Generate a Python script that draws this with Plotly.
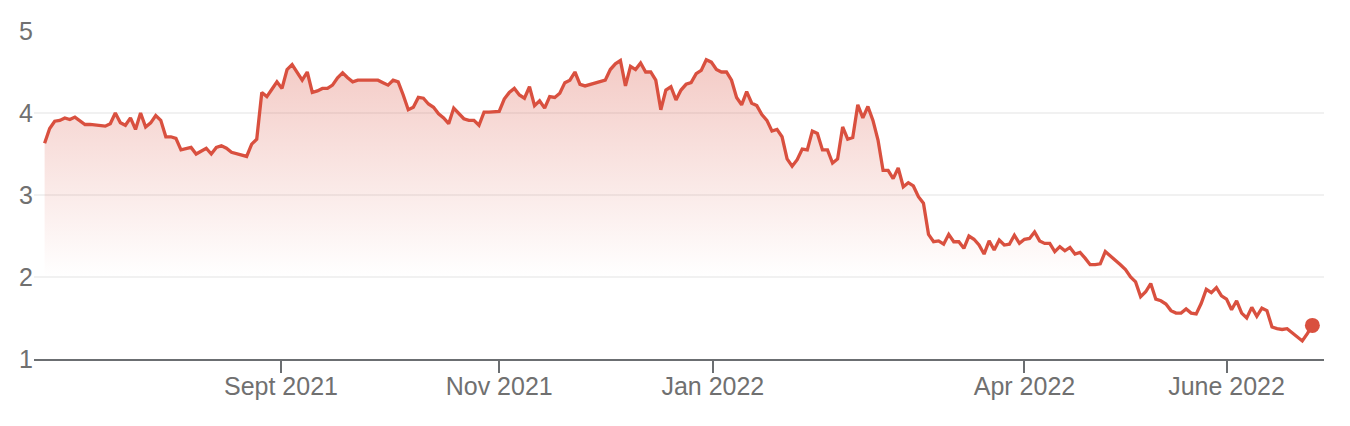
import plotly.graph_objects as go

# Daily closing values (trading days)
values = [
    3.63, 3.81, 3.90, 3.91, 3.94, 3.92, 3.95, 3.91, 3.86, 3.86,
    3.85, 3.84, 3.84, 3.87, 4.00, 3.88, 3.85, 3.94, 3.80, 4.00,
    3.83, 3.88, 3.97, 3.91, 3.71, 3.71, 3.69, 3.55, 3.57, 3.58,
    3.50, 3.54, 3.57, 3.50, 3.58, 3.60,
    3.57, 3.52, 3.50, 3.49, 3.47, 3.62, 3.68, 4.25, 4.20, 4.29,
    4.38, 4.30, 4.53, 4.59, 4.50, 4.40, 4.50, 4.25, 4.27, 4.30,
    4.30, 4.34, 4.43, 4.49, 4.43, 4.38, 4.40, 4.40, 4.40, 4.40,
    4.40, 4.37, 4.34, 4.40, 4.38,
    4.22, 4.04, 4.07, 4.19, 4.18, 4.11, 4.07, 3.99, 3.94, 3.87,
    4.06, 4.00, 3.93, 3.91, 3.91, 3.85, 4.01, 4.01, 4.01, 4.02,
    4.17, 4.25, 4.30, 4.22, 4.18, 4.32, 4.09, 4.15, 4.06, 4.20,
    4.19, 4.24, 4.37, 4.40, 4.50, 4.35, 4.33,
    4.35, 4.37, 4.39, 4.40, 4.53, 4.60, 4.64, 4.33, 4.57, 4.53,
    4.61, 4.50, 4.50, 4.40, 4.04, 4.28, 4.32, 4.16, 4.28, 4.35,
    4.37, 4.48, 4.52, 4.65, 4.62, 4.53, 4.50, 4.50, 4.40, 4.19,
    4.10, 4.26, 4.12, 4.09, 3.98,
    3.91, 3.78, 3.80, 3.71, 3.44, 3.35, 3.43, 3.56, 3.55, 3.78,
    3.75, 3.55, 3.55, 3.39, 3.44, 3.83, 3.68, 3.70, 4.10, 3.94,
    4.08, 3.91, 3.67, 3.30, 3.30, 3.20, 3.33, 3.10, 3.15, 3.11,
    2.98, 2.90,
    2.52, 2.43, 2.44, 2.40, 2.52, 2.43, 2.43, 2.35, 2.50, 2.46,
    2.39, 2.28, 2.44, 2.33, 2.45, 2.39, 2.40, 2.51, 2.41, 2.46,
    2.47, 2.55, 2.44, 2.41, 2.41, 2.31, 2.37, 2.32, 2.36, 2.28,
    2.30, 2.23, 2.15, 2.15, 2.16, 2.31, 2.26, 2.21, 2.15, 2.09,
    2.00, 1.94, 1.76, 1.82, 1.92, 1.73, 1.71, 1.67, 1.59, 1.56,
    1.56, 1.61, 1.56, 1.55, 1.68, 1.85, 1.81, 1.87, 1.77, 1.73,
    1.60, 1.71, 1.56, 1.50, 1.63, 1.52, 1.62, 1.59, 1.39, 1.37,
    1.36, 1.37, 1.32, 1.26, 1.22, 1.31, 1.41,
]

# Month tick labels and the trading-day index where each month begins
tick_labels = ["Sept 2021", "Nov 2021", "Jan 2022", "Apr 2022", "June 2022"]
tick_index = [46.8, 90.0, 132.3, 194.0, 234.0]

y_ticks = [1, 2, 3, 4, 5]

x = list(range(len(values)))

LINE = "rgb(217,80,63)"
GREY = "#707070"
FONT = "Liberation Sans, Arial, Helvetica, sans-serif"
FS = 25

fig = go.Figure()

fig.add_trace(go.Scatter(
    x=x, y=values,
    mode="lines",
    line=dict(color=LINE, width=3.3),
    fill="tozeroy",
    fillgradient=dict(
        type="vertical",
        start=2.0, stop=4.65,
        colorscale=[[0, "rgba(217,80,63,0)"], [1, "rgba(217,80,63,0.3)"]],
    ),
    hoverinfo="skip",
    showlegend=False,
))

fig.add_trace(go.Scatter(
    x=[x[-1]], y=[values[-1]],
    mode="markers",
    marker=dict(color=LINE, size=15),
    hoverinfo="skip",
    showlegend=False,
))

# page body has an 8px margin, so the figure is 8px smaller on each side
fig.update_layout(
    width=1342, height=418,
    margin=dict(l=26, r=26, t=23, b=67),
    paper_bgcolor="white",
    plot_bgcolor="white",
    font=dict(family=FONT, size=FS, color=GREY),
    xaxis=dict(
        range=[-2.1, 253.3],
        tickvals=tick_index,
        ticktext=tick_labels,
        showgrid=False,
        zeroline=False,
        showline=True,
        linecolor="#6b6e71",
        linewidth=2,
        ticks="outside",
        ticklen=12,
        tickwidth=2,
        tickcolor="#6b6e71",
        ticklabelstandoff=-8,
        automargin=False,
        tickfont=dict(family=FONT, size=FS, color=GREY),
    ),
    yaxis=dict(
        range=[1, 5],
        tickvals=y_ticks,
        ticktext=[str(v) for v in y_ticks],
        showgrid=True,
        gridcolor="#f1f1f1",
        gridwidth=2,
        zeroline=False,
        showline=False,
        ticks="",
        automargin=False,
        tickfont=dict(family=FONT, size=FS, color=GREY),
    ),
)

fig.write_html("out.html")
